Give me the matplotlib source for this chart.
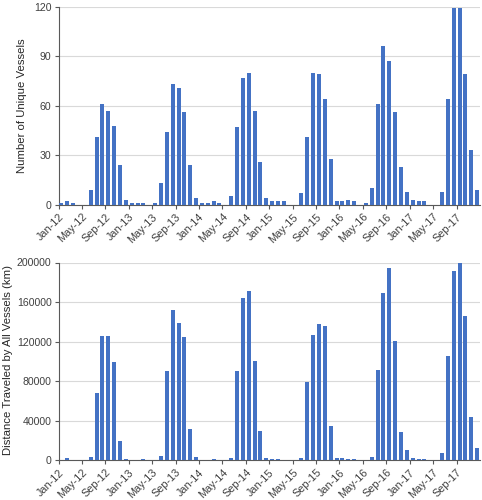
import matplotlib
matplotlib.use("Agg")
import matplotlib.pyplot as plt
import numpy as np

plt.rcParams['font.family'] = ['Liberation Sans', 'DejaVu Sans']

years = ['12', '13', '14', '15', '16', '17']
month_names = ['Jan', 'Feb', 'Mar', 'Apr', 'May', 'Jun', 'Jul', 'Aug', 'Sep', 'Oct', 'Nov', 'Dec']
months = [f"{m}-{y}" for y in years for m in month_names]

vessels = [
    1, 2, 1, 0, 0, 9, 41, 61, 57, 48, 24, 3,
    1, 1, 1, 0, 1, 13, 44, 73, 71, 56, 24, 4,
    1, 1, 2, 1, 0, 5, 47, 77, 80, 57, 26, 4,
    2, 2, 2, 0, 0, 7, 41, 80, 79, 64, 28, 2,
    2, 3, 2, 0, 1, 10, 61, 96, 87, 56, 23, 8,
    3, 2, 2, 0, 0, 8, 64, 119, 119, 79, 33, 9,
]

distance = [
    500, 2000, 800, 0, 0, 3200, 67600, 125600, 126000, 99300, 19800, 1300,
    800, 600, 900, 0, 300, 4800, 89800, 152200, 139000, 124600, 31700, 3400,
    800, 500, 900, 500, 0, 2500, 90600, 164000, 171300, 100800, 29700, 2400,
    1400, 1000, 700, 0, 0, 2400, 79100, 126300, 137700, 135700, 34400, 2400,
    2000, 1700, 1300, 0, 200, 3700, 91000, 169600, 194100, 120900, 28500, 10000,
    2200, 1200, 1500, 0, 0, 6900, 105400, 191500, 199500, 145400, 44000, 12100,
]

tick_labels = months[::4]

bar_color = '#4472C4'
text_color = '#404040'
grid_color = '#D9D9D9'
spine_color = '#595959'

fig = plt.figure(figsize=(4.82, 5.0), dpi=100)
left = 58.5 / 482
width = (480 - 58.5) / 482
ax1 = fig.add_axes([left, 1 - 204.7 / 500, width, (204.7 - 6.7) / 500])
ax2 = fig.add_axes([left, 1 - 460.3 / 500, width, (460.3 - 262.5) / 500])

x = np.arange(len(months))

def style(ax, values, ymax, yticks, ylabel):
    ax.bar(x, values, width=0.68, color=bar_color, zorder=3)
    ax.set_xlim(-0.5, len(months) - 0.5)
    ax.set_ylim(0, ymax)
    ax.set_yticks(yticks)
    ax.set_yticklabels([str(v) for v in yticks])
    tick_pos = np.arange(0, len(months), 4) - 0.5
    ax.set_xticks(tick_pos)
    ax.set_xticklabels(tick_labels, rotation=45, ha='right', rotation_mode='anchor')
    ax.tick_params(axis='x', length=3, width=0.8, color=spine_color, labelsize=7.8,
                   labelcolor=text_color, pad=2)
    ax.tick_params(axis='y', length=3, width=0.8, color=spine_color, labelsize=7.6,
                   labelcolor=text_color, pad=2)
    ax.grid(axis='y', color=grid_color, linewidth=0.8, zorder=0)
    ax.set_axisbelow(True)
    for s in ['top', 'right']:
        ax.spines[s].set_visible(False)
    for s in ['left', 'bottom']:
        ax.spines[s].set_color(spine_color)
        ax.spines[s].set_linewidth(0.8)
    ax.set_ylabel(ylabel, fontsize=8.2, color='#262626')

style(ax1, vessels, 120, [0, 30, 60, 90, 120], 'Number of Unique Vessels')
style(ax2, distance, 200000, [0, 40000, 80000, 120000, 160000, 200000],
      'Distance Traveled by All Vessels (km)')
ax1.yaxis.set_label_coords(-0.075, 0.5)
ax2.yaxis.set_label_coords(-0.108, 0.505)

fig.savefig('out.png', dpi=100)
